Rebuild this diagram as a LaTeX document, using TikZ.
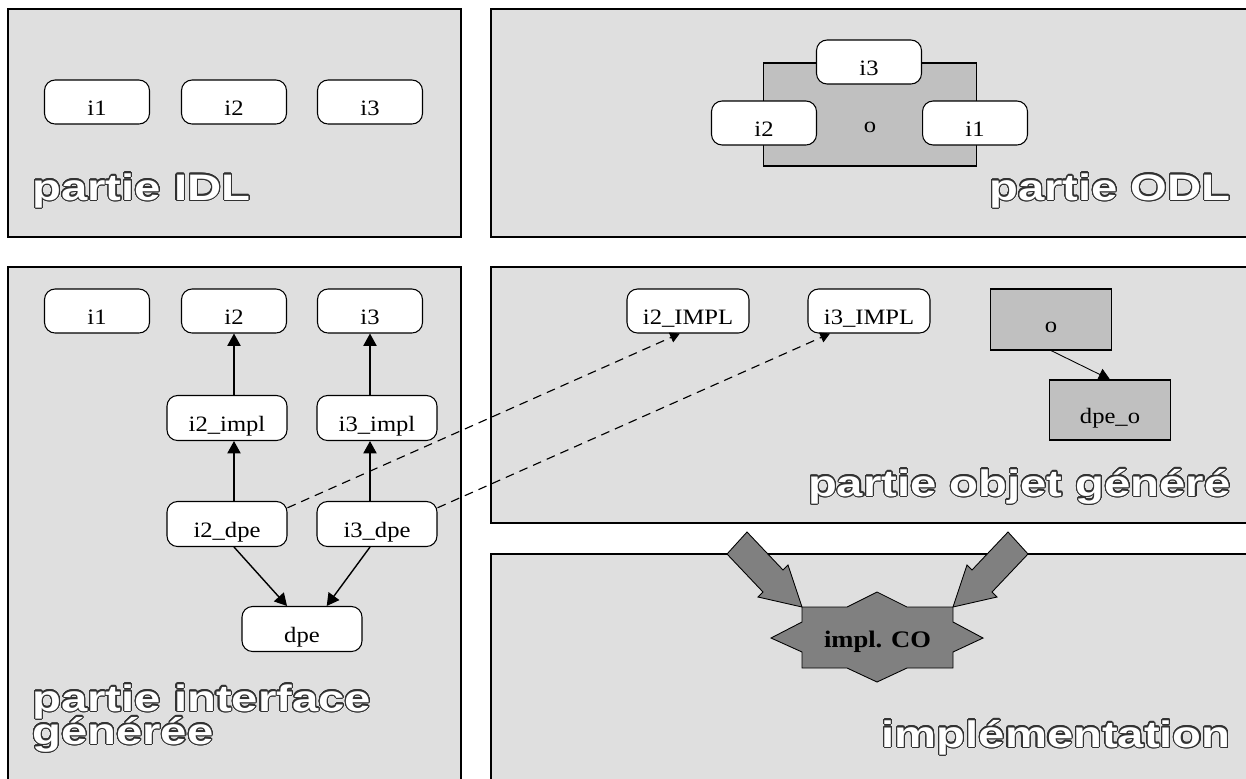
\documentclass[tikz,border=0pt]{standalone}
\usepackage{fontspec}
\setmainfont{Liberation Serif}[FakeStretch=1.12]
\newfontfamily\bannerfont{Liberation Sans}[FakeStretch=1.28]
\usepackage{contour}
\contourlength{0.6pt}
\contournumber{32}
\usetikzlibrary{arrows.meta}

\definecolor{panelgray}{RGB}{223,223,223}
\definecolor{boxgray}{RGB}{192,192,192}
\definecolor{stargray}{RGB}{128,128,128}
\definecolor{edgegray}{RGB}{50,50,50}

\tikzset{
  panel/.style={draw=black, line width=0.7pt, fill=panelgray},
  iface/.style={draw=black, line width=0.6pt, fill=white, rounded corners=6pt,
    minimum width=2.1cm, minimum height=0.88cm, inner sep=0pt,
    text height=15pt, text depth=0pt, font=\fontsize{12.5}{14}\selectfont},
  wide/.style={iface, minimum width=2.4cm, minimum height=0.9cm},
  obj/.style={draw=black, line width=0.6pt, fill=boxgray, inner sep=0pt,
    text height=15pt, text depth=0pt, font=\fontsize{12.5}{14}\selectfont},
  banner/.style={text=white, inner sep=0pt,
    font=\bannerfont\bfseries\fontsize{21}{24}\selectfont},
  link/.style={-{Triangle[length=7pt,width=7.5pt]}, line width=0.8pt},
  thinlink/.style={-{Triangle[length=6.5pt,width=7pt]}, line width=0.5pt},
  impl/.style={dash pattern=on 5pt off 3.5pt, line width=0.65pt,
    -{Triangle[length=5.5pt,width=6pt]}},
  bigarrow/.style={draw=black, line width=0.5pt, fill=stargray, line join=miter},
}

\begin{document}
\begin{tikzpicture}[x=0.02cm, y=-0.02cm]
    \useasboundingbox (0,0) rectangle (1246,778);

    % Panels
    \draw[panel] (8,9) rectangle (461,237);
    \draw[panel] (491,9) rectangle (1260,237);
    \draw[panel] (8,267) rectangle (461,800);
    \draw[panel] (491,267) rectangle (1260,523);
    \draw[panel] (491,554) rectangle (1260,800);

    % IDL part
    \node[iface] (idl1) at (97,102) {i1};
    \node[iface] (idl2) at (234,102) {i2};
    \node[iface] (idl3) at (370,102) {i3};
    \node[banner, anchor=base west] (idltitle) at (32,200) {\contour{edgegray}{partie IDL}};

    % ODL part: object with its interfaces
    \node[obj, minimum width=4.26cm, minimum height=2.06cm, text height=20pt] (odlobj) at (870,114.5) {o};
    \node[iface] (odl3) at (869,62) {i3};
    \node[iface] (odl2) at (764,123) {i2};
    \node[iface] (odl1) at (975,123) {i1};
    \node[banner, anchor=base east] (odltitle) at (1231,200) {\contour{edgegray}{partie ODL}};

    % Generated interface part
    \node[iface] (gi1) at (97,311) {i1};
    \node[iface] (gi2) at (234,311) {i2};
    \node[iface] (gi3) at (370,311) {i3};
    \node[wide] (gi2impl) at (227,418) {i2\_impl};
    \node[wide] (gi3impl) at (377,418) {i3\_impl};
    \node[wide] (gi2dpe) at (227,524) {i2\_dpe};
    \node[wide] (gi3dpe) at (377,524) {i3\_dpe};
    \node[wide] (gdpe) at (302,629) {dpe};

    \draw[link] (gi2impl.north -| gi2) -- (gi2.south);
    \draw[link] (gi3impl.north -| gi3) -- (gi3.south);
    \draw[link] (gi2dpe.north -| gi2) -- (gi2impl.south -| gi2);
    \draw[link] (gi3dpe.north -| gi3) -- (gi3impl.south -| gi3);
    \draw[link] (gi2dpe.south -| gi2) -- (gdpe.123);
    \draw[link] (gi3dpe.south -| gi3) -- (gdpe.43);

    \node[banner, anchor=base west] (gentitle) at (32,711) {\contour{edgegray}{partie interface}};
    \node[banner, anchor=base west] (gentitleb) at (32,744) {\contour{edgegray}{générée}};

    % Generated object part
    \node[wide, minimum width=2.44cm, minimum height=0.88cm] (oi2impl) at (688,311) {i2\_IMPL};
    \node[wide, minimum width=2.44cm, minimum height=0.88cm] (oi3impl) at (869,311) {i3\_IMPL};
    \node[obj, minimum width=2.42cm, minimum height=1.22cm] (oobj) at (1051,319.5) {o};
    \node[obj, minimum width=2.42cm, minimum height=1.2cm] (odpeo) at (1110,410) {dpe\_o};
    \draw[thinlink] (oobj.south) -- (odpeo.north);
    \node[banner, anchor=base east] (objtitle) at (1231,496) {\contour{edgegray}{partie objet généré}};

    % Dashed links between the two generated parts
    \draw[impl] (gi2dpe.15) -- (oi2impl.-110);
    \draw[impl] (gi3dpe.15) -- (oi3impl.-150);

    % Implementation part
    \draw[bigarrow] (802,607) -- (758,597) -- (763,592) -- (727,554) -- (747,532)
        -- (783,570) -- (788,565) -- cycle;
    \draw[bigarrow] (953,607) -- (997,597) -- (992,592) -- (1028,554) -- (1008,532)
        -- (972,570) -- (967,565) -- cycle;
    \draw[bigarrow] (802,607) -- (847,607) -- (877,592) -- (907,607) -- (953,607)
        -- (953,622) -- (983,638) -- (953,652) -- (953,668) -- (907,668)
        -- (877,682) -- (847,668) -- (802,668) -- (802,652) -- (771,638)
        -- (802,622) -- cycle;
    \node[inner sep=0pt, text depth=0pt, font=\bfseries\fontsize{13.5}{15}\selectfont] (implco) at (877.5,639) {impl. CO};
    \node[banner, anchor=base east] (impltitle) at (1231,747) {\contour{edgegray}{implémentation}};
\end{tikzpicture}
\end{document}
